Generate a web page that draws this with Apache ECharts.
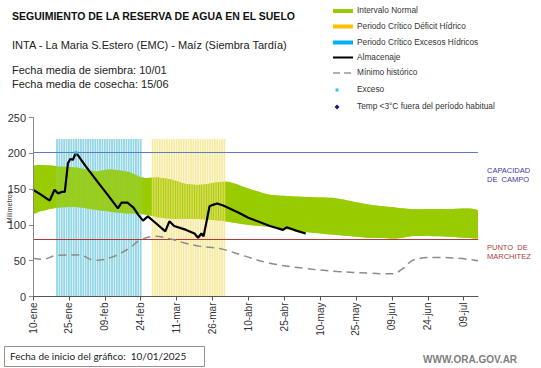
<!DOCTYPE html>
<html><head><meta charset="utf-8">
<script src="https://cdn.jsdelivr.net/npm/echarts@6/dist/echarts.min.js"></script>
<style>html,body{margin:0;padding:0;background:#fff}#c{width:541px;height:368px}</style>
</head><body><div id="c"></div>
<script>
// ---- data (x = days since 10-ene) ----
const xTickDays = [0,15,30,45,60,75,90,105,120,135,150,165,180];
const xTickLabels = ['10-ene','25-ene','09-feb','24-feb','11-mar','26-mar','10-abr','25-abr','10-may','25-may','09-jun','24-jun','09-jul'];
const yTicks = [0,50,100,150,200,250];

const bandDays = [0,3,10,18,26,32,40,46,53,57,64,70,78,82,90,99,108,117,127,141,152,159,173,186];
const bandHigh = [181,183.5,182,180,175,177.5,174,166,166,164,157,156,160,160,151,142,140,138.5,137,128,124,122,122,120];
const bandLow  = [116,119,124,125,121,118.5,116,115,110.5,109,108.5,108,106,104,100,97.5,93,89,86,82,81,84.5,83.6,81];

const almDays   = [0,3,7,9,10.5,12,13.3,14.6,15.6,16.7,17.8,18.6,22,27,31,35.5,37,39.5,42,44,46,48,51.5,55.3,57,59,64,67.5,69,70.4,71.3,73.8,75.2,77,79.5,86,90,99,104.5,106,110,114];
const almValues = [149,143,134,149,144,146,146,186,192,191,200,198,182,160,143,123,131,131,124,114,106,112,102,91,105,98.5,93,88,82,88,84,126,128,130,127,117,110,98.5,93,96.7,92,88];

const minDays   = [0,4,10,19,26,33,40,45,51,58,63,70,78,88,99,113,127,141,150,155,159,168,177,186];
const minValues = [53.5,52,57.5,58,50.5,55,67,79,84,80,75,70,67,57,46.5,39.5,35,32.5,31.6,40,51,54.5,53.5,50];

const excesoPoint = [[18,201]];
const excesoPeriod = [10,45];   // Periodo crítico excesos hídricos
const deficitPeriod = [50,80];  // Periodo crítico déficit hídrico
const periodTop = 220;
const capacidadCampo = 201;
const puntoMarchitez = 80;

// ---- build ----
function pairs(xs, ys){ return xs.map((x,i)=>[x, ys[i]]); }
function periodBars(p, top){ const out=[]; for(let d=p[0]; d<=p[1]; d++) out.push([d, top]); return out; }
function bandSeries(opacity, z){
  return {type:'custom', silent:true, z:z, clip:true, data:[[0,0]],
    renderItem:(params, api)=>{
      const up = bandDays.map((d,i)=>api.coord([d, bandHigh[i]]));
      const lo = bandDays.map((d,i)=>api.coord([d, bandLow[i]])).reverse();
      const pts = up.concat(lo);
      const mn = [Infinity, Infinity], mx = [-Infinity, -Infinity];
      pts.forEach(p=>{ mn[0]=Math.min(mn[0],p[0]); mn[1]=Math.min(mn[1],p[1]); mx[0]=Math.max(mx[0],p[0]); mx[1]=Math.max(mx[1],p[1]); });
      return {type:'polygon', shape:{points:pts, smooth:0.25, smoothConstraint:[mn, mx]},
        style:{fill:'#99cc00', opacity:opacity}};
    }};
}

const chart = echarts.init(document.getElementById('c'), null, {renderer:'svg'});
const F = 'Liberation Sans, Arial, sans-serif';

const legendItems = [
  {y:11, text:'Intervalo Normal'},
  {y:26.5, text:'Periodo Crítico Déficit Hídrico'},
  {y:42.5, text:'Periodo Crítico Excesos Hídricos'},
  {y:57.5, text:'Almacenaje'},
  {y:73, text:'Mínimo histórico'},
  {y:90, text:'Exceso'},
  {y:107, text:'Temp <3°C fuera del período habitual'}
];

const graphic = [
  {type:'text', left:12, top:10, style:{text:'SEGUIMIENTO DE LA RESERVA DE AGUA EN EL SUELO', font:'bold 10.5px '+F, fill:'#111'}},
  {type:'text', left:12, top:39, style:{text:'INTA - La Maria S.Estero (EMC) - Maíz (Siembra Tardía)', font:'11px '+F, fill:'#222'}},
  {type:'text', left:12, top:64, style:{text:'Fecha media de siembra: 10/01', font:'11px '+F, fill:'#222'}},
  {type:'text', left:12, top:78, style:{text:'Fecha media de cosecha: 15/06', font:'11px '+F, fill:'#222'}},
  // legend icons
  {type:'rect', shape:{x:333,y:9,width:20,height:4}, style:{fill:'#99cc00'}},
  {type:'rect', shape:{x:333,y:24.5,width:20,height:4}, style:{fill:'#ffc000'}},
  {type:'rect', shape:{x:333,y:40.5,width:20,height:4}, style:{fill:'#00b0f0'}},
  {type:'line', shape:{x1:333,y1:57.5,x2:353,y2:57.5}, style:{stroke:'#000', lineWidth:2}},
  {type:'line', shape:{x1:333,y1:73,x2:353,y2:73}, style:{stroke:'#999', lineWidth:1.5, lineDash:[7,4]}},
  {type:'rect', shape:{x:335.5,y:88.5,width:3,height:3}, style:{fill:'#33c3e8'}},
  {type:'polygon', shape:{points:[[337,104.5],[339.5,107],[337,109.5],[334.5,107]]}, style:{fill:'#1a1a8c'}},
  // right labels
  {type:'text', left:487, top:166, style:{text:'CAPACIDAD\nDE  CAMPO', font:'7.5px '+F, fill:'#3a3aa8', lineHeight:9}},
  {type:'text', left:487, top:243, style:{text:'PUNTO  DE\nMARCHITEZ', font:'7.5px '+F, fill:'#b03a3a', lineHeight:9}},
  // footer
  {type:'rect', shape:{x:4.5,y:346.5,width:200,height:20}, style:{fill:'#fff', stroke:'#a08c8c', lineWidth:1}},
  {type:'text', left:10, top:351, style:{text:'Fecha de inicio del gráfico:  10/01/2025', font:'10px Lato, Carlito, sans-serif', fill:'#222'}},
  {type:'text', left:423, top:354, style:{text:'WWW.ORA.GOV.AR', font:'bold 10px '+F, fill:'#808080'}}
];
legendItems.forEach(it=>graphic.push({type:'text', left:357, top:it.y-5, style:{text:it.text, font:'8.3px '+F, fill:'#333'}}));

const option = {
  backgroundColor:'#fff',
  animation:false,
  grid:{left:33, right:63, top:117.5, bottom:71.5, outerBoundsMode:'none', containLabel:false},
  xAxis:{
    type:'value', min:0, max:186, z:10,
    axisLine:{show:true, lineStyle:{color:'#555', width:1}},
    axisTick:{show:true, length:4, customValues:xTickDays, lineStyle:{color:'#555'}},
    axisLabel:{rotate:90, fontSize:10, color:'#333', fontFamily:F, margin:6, customValues:xTickDays,
      formatter:v=>xTickLabels[xTickDays.indexOf(v)] || ''},
    splitLine:{show:false}
  },
  yAxis:{
    type:'value', min:0, max:250, interval:50, z:10,
    name:'Milímetros', nameLocation:'middle', nameGap:20, nameRotate:90, nameMoveOverlap:false,
    nameTextStyle:{fontSize:7, color:'#333', fontFamily:F},
    axisLine:{show:true, lineStyle:{color:'#888'}},
    axisTick:{show:true, length:4, lineStyle:{color:'#888'}},
    axisLabel:{fontSize:11, color:'#333', fontFamily:F, margin:7, customValues:yTicks},
    splitLine:{show:false}
  },
  graphic:graphic,
  series:[
    bandSeries(1, 1),
    {type:'bar', data:periodBars(excesoPeriod, periodTop), barWidth:1.8, itemStyle:{color:'#93d6e4', opacity:1}, z:2, silent:true},
    bandSeries(0.8, 3),
    {type:'bar', data:periodBars(deficitPeriod, periodTop), barWidth:1.7, barGap:'-100%', itemStyle:{color:'#f2e070', opacity:0.7}, z:4, silent:true},
    {type:'line', data:pairs(minDays, minValues), symbol:'none', smooth:0.4,
      lineStyle:{color:'#8c8c8c', width:1.5, type:[8,5]}, z:5,
      markLine:{silent:true, symbol:'none', label:{show:false},
        data:[{yAxis:capacidadCampo, lineStyle:{color:'#5b7dc6', width:1, type:'solid'}},
              {yAxis:puntoMarchitez, lineStyle:{color:'#b03a3a', width:1, type:'solid'}}]}},
    {type:'line', data:pairs(almDays, almValues), symbol:'none', lineStyle:{color:'#000', width:2.2}, z:6},
    {type:'scatter', data:excesoPoint, symbol:'circle', symbolSize:4, itemStyle:{color:'#33c3e8'}, z:7}
  ]
};
chart.setOption(option);
</script></body></html>
